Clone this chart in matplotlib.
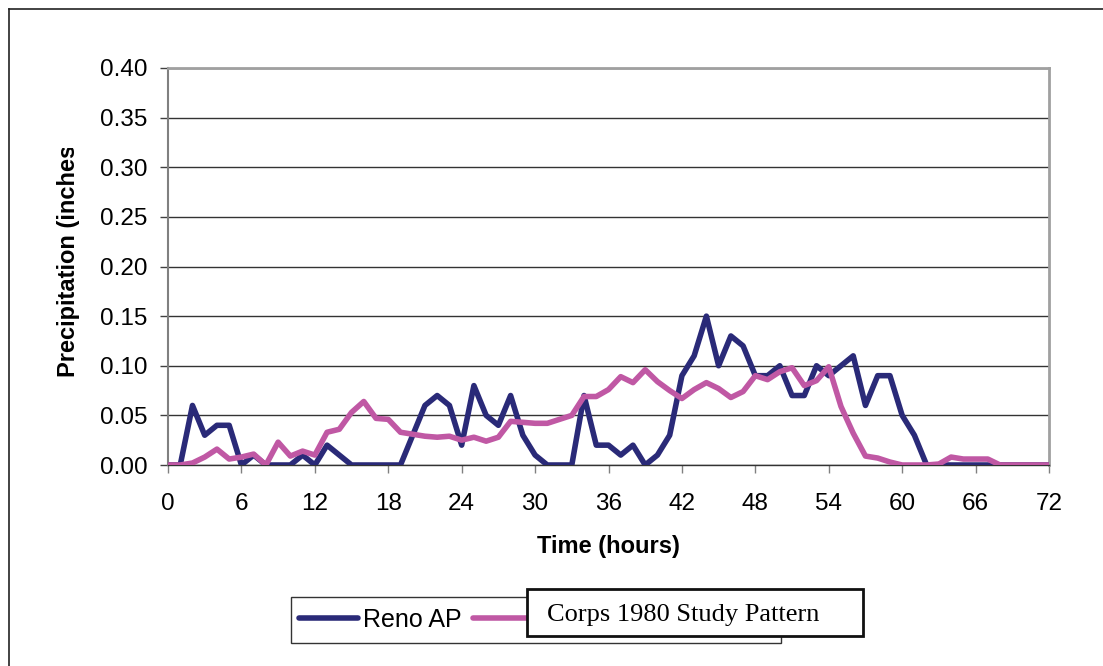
import matplotlib.pyplot as plt
from matplotlib.patches import Rectangle
from matplotlib.lines import Line2D
from matplotlib.transforms import Bbox, TransformedBbox

# hourly values
hours = list(range(73))
reno_ap = [0, 0, 0.06, 0.03, 0.04, 0.04, 0.00, 0.01, 0, 0,
           0, 0.01, 0, 0.02, 0.01, 0, 0, 0, 0, 0,
           0.03, 0.06, 0.07, 0.06, 0.02, 0.08, 0.05, 0.04, 0.07, 0.03,
           0.01, 0, 0, 0, 0.07, 0.02, 0.02, 0.01, 0.02, 0,
           0.01, 0.03, 0.09, 0.11, 0.15, 0.10, 0.13, 0.12, 0.09, 0.09,
           0.10, 0.07, 0.07, 0.10, 0.09, 0.10, 0.11, 0.06, 0.09, 0.09,
           0.05, 0.03, 0, 0, 0, 0, 0, 0, 0, 0,
           0, 0, 0]
corps_1980 = [0, 0, 0.002, 0.008, 0.016, 0.006, 0.008, 0.011, 0, 0.023,
              0.009, 0.014, 0.010, 0.033, 0.036, 0.053, 0.064, 0.047, 0.046, 0.033,
              0.031, 0.029, 0.028, 0.029, 0.025, 0.028, 0.024, 0.028, 0.044, 0.043,
              0.042, 0.042, 0.046, 0.050, 0.069, 0.069, 0.076, 0.089, 0.083, 0.096,
              0.084, 0.075, 0.067, 0.076, 0.083, 0.077, 0.068, 0.074, 0.090, 0.086,
              0.094, 0.098, 0.080, 0.085, 0.099, 0.059, 0.032, 0.009, 0.007, 0.003,
              0, 0, 0, 0.001, 0.008, 0.006, 0.006, 0.006, 0, 0,
              0, 0, 0]

x_ticks = list(range(0, 73, 6))
y_ticks = [0.00, 0.05, 0.10, 0.15, 0.20, 0.25, 0.30, 0.35, 0.40]

navy = "#2a2a78"
pink = "#c058a4"

plt.rcParams["font.family"] = ["Liberation Sans", "DejaVu Sans"]

W, H = 1103, 666
fig = plt.figure(figsize=(W / 100, H / 100), dpi=100)
ax = fig.add_axes([168 / W, 1 - 465 / H, (1049 - 168) / W, (465 - 68) / H])

ax.plot(hours, reno_ap, color=navy, lw=4.0, solid_joinstyle="round",
        solid_capstyle="round", label="Reno AP", zorder=3)
ax.plot(hours, corps_1980, color=pink, lw=4.0, solid_joinstyle="round",
        solid_capstyle="round", label="Corps 1980 Study Pattern", zorder=4)

ax.set_xlim(0, 72)
ax.set_ylim(0, 0.40)
ax.set_xticks(x_ticks)
ax.set_yticks(y_ticks)
ax.set_yticklabels([f"{v:.2f}" for v in y_ticks])
ax.tick_params(axis="both", labelsize=17.5, direction="out", length=6,
               width=1, colors="#404040", labelcolor="black")
ax.tick_params(axis="x", pad=14, colors="#808080", labelcolor="black")
ax.tick_params(axis="y", pad=9)

ax.yaxis.grid(True, color="#333333", lw=1)
ax.set_axisbelow(True)
for side in ["top", "right"]:
    ax.spines[side].set_color("#a0a0a0")
    ax.spines[side].set_linewidth(2)
ax.spines["left"].set_color("#808080")
ax.spines["left"].set_linewidth(1.5)
ax.spines["bottom"].set_color("#333333")
ax.spines["bottom"].set_linewidth(1)

ax.set_xlabel("Time (hours)", fontsize=17, fontweight="bold", va="center")
ax.xaxis.set_label_coords(0.5, (465 - 546) / (465 - 68))

# y label is cut off at the top in the original
ylab = fig.text(68 / W, 1 - 257 / H, "Precipitation (inches)", rotation=90,
                fontsize=17, fontweight="bold", ha="center", va="center")
ylab.set_clip_box(TransformedBbox(Bbox.from_extents(0, 0, 1, 1 - 148 / H),
                                  fig.transFigure))
ylab.set_clip_on(True)

# outer chart border (only top and left visible)
fig.add_artist(Line2D([9 / W, 1], [1 - 9 / H, 1 - 9 / H], color="#222222", lw=1.2))
fig.add_artist(Line2D([9 / W, 9 / W], [0, 1 - 9 / H], color="#222222", lw=1.2))

# legend
leg = fig.legend(loc="center left", bbox_to_anchor=(299 / W, 1 - 620 / H),
                 ncol=2, frameon=False, fontsize=18, handlelength=2.36,
                 handletextpad=0.2, columnspacing=0.45, borderpad=0,
                 borderaxespad=0)
for line in leg.get_lines():
    line.set_linewidth(4)
# second legend label sits under the pasted text box
leg.get_texts()[1].set_visible(False)
fig.add_artist(Rectangle((291 / W, 1 - 643 / H), (781 - 291) / W, 46 / H,
                         transform=fig.transFigure, fill=False,
                         edgecolor="#333333", lw=1))

# text box pasted over the legend
fig.add_artist(Rectangle((527 / W, 1 - 636 / H), (863 - 527) / W, 47 / H,
                         transform=fig.transFigure, facecolor="white",
                         edgecolor="#111111", lw=2, zorder=10))
fig.text(547 / W, 1 - 615 / H, "Corps 1980 Study Pattern",
         family=["Liberation Serif", "DejaVu Serif"], fontsize=19,
         ha="left", va="center", zorder=11)

fig.savefig("out.png", dpi=100)
